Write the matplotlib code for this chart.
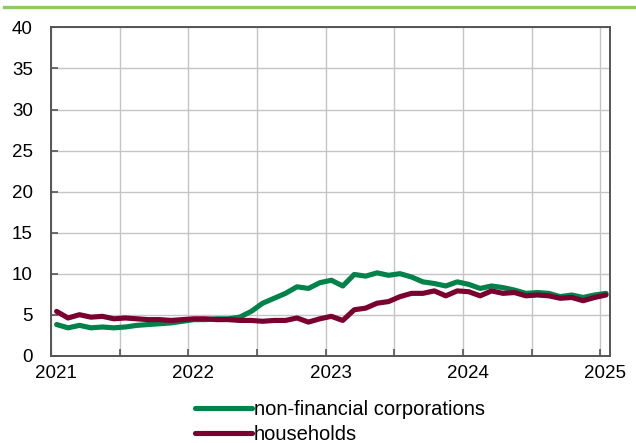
import numpy as np
import matplotlib.pyplot as plt
from matplotlib.lines import Line2D
from matplotlib.transforms import ScaledTranslation

plt.rcParams['font.family'] = ['Liberation Sans', 'DejaVu Sans']

# monthly observations, Jan 2021 .. Jan 2025
start_year = 2021
n_months = 49

nfc = [3.8, 3.4, 3.7, 3.4, 3.5, 3.4, 3.5, 3.7, 3.8, 3.9, 4.0, 4.2,
       4.4, 4.4, 4.5, 4.5, 4.7, 5.4, 6.4, 7.0, 7.6, 8.4, 8.2, 8.9,
       9.2, 8.5, 9.9, 9.7, 10.1, 9.8, 10.0, 9.6, 9.0, 8.8, 8.5, 9.0,
       8.7, 8.2, 8.5, 8.3, 8.0, 7.6, 7.7, 7.6, 7.2, 7.4, 7.1, 7.4, 7.6]
households = [5.4, 4.6, 5.0, 4.7, 4.8, 4.5, 4.6, 4.5, 4.4, 4.4, 4.3, 4.4,
              4.5, 4.5, 4.4, 4.4, 4.3, 4.3, 4.2, 4.3, 4.3, 4.6, 4.1, 4.5,
              4.8, 4.3, 5.6, 5.8, 6.4, 6.6, 7.2, 7.6, 7.6, 7.9, 7.3, 7.9,
              7.8, 7.3, 7.9, 7.6, 7.7, 7.3, 7.4, 7.3, 7.0, 7.1, 6.7, 7.1, 7.4]

year_ticks = [2021, 2022, 2023, 2024, 2025]
y_ticks = [0, 5, 10, 15, 20, 25, 30, 35, 40]

# mid-month positions
t = start_year + (np.arange(n_months) + 0.5) / 12

fig = plt.figure(figsize=(6.36, 4.43), dpi=100)
ax = fig.add_axes([0.080, 0.197, 0.879, 0.741])

ax.plot(t, nfc, color='#00824A', lw=3.7, solid_capstyle='round',
        label='non-financial corporations', zorder=3)
ax.plot(t, households, color='#7A0030', lw=3.7, solid_capstyle='round',
        label='households', zorder=4)

ax.set_xlim(2021, 2025.07)
ax.set_ylim(0, 40)
ax.set_yticks(y_ticks)
ax.set_xticks(year_ticks)
ax.set_xticks(np.arange(2021.5, 2025, 1.0), minor=True)

ax.grid(True, which='both', axis='x', color='#C4C4C4', lw=1)
ax.grid(True, which='major', axis='y', color='#C4C4C4', lw=1)
ax.set_axisbelow(True)

for s in ax.spines.values():
    s.set_color('#555555')
    s.set_linewidth(1.4)

ax.tick_params(axis='both', which='both', direction='in', length=5,
               color='#555555', width=1.2, labelsize=13.5)
ax.tick_params(axis='y', pad=13)
ax.tick_params(axis='x', pad=6.5)

# x labels sit a bit right of the tick
off = ScaledTranslation(5 / 100, 0, fig.dpi_scale_trans)
for lab in ax.get_xticklabels():
    lab.set_transform(lab.get_transform() + off)

fig.legend(loc='upper left', bbox_to_anchor=(0.307, 0.097), frameon=False,
           fontsize=14.5, handlelength=2.8, handletextpad=0.1,
           labelspacing=0.28, borderpad=0, borderaxespad=0)

# green rule across the top
fig.add_artist(Line2D([0.006, 1.0], [0.984, 0.984], color='#8CCB5E', lw=2.4,
                      transform=fig.transFigure))

fig.savefig('out.png', dpi=100)
